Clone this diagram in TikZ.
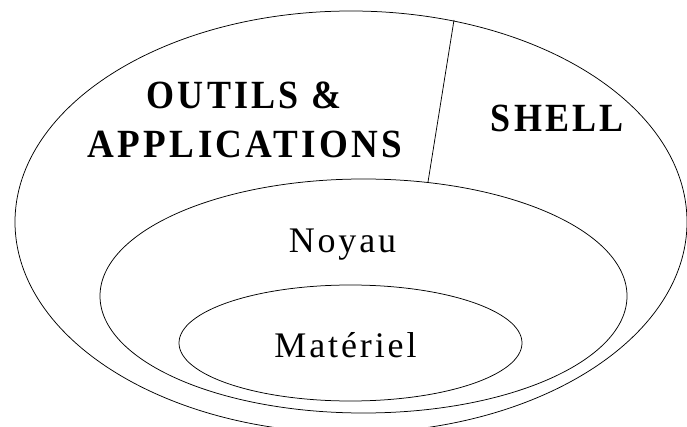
\documentclass[tikz,border=0pt]{standalone}
\usepackage{fontspec}
\setmainfont{Liberation Serif}
\newfontfamily\spacedfont[LetterSpace=8]{Liberation Serif}
\newfontfamily\spacedbold[LetterSpace=9,UprightFont={* Bold}]{Liberation Serif}
\usetikzlibrary{shapes.geometric}
\begin{document}
\begin{tikzpicture}[x=1pt,y=-1pt,
  ring/.style={draw=black,line width=0.75pt,ellipse,inner sep=0pt},
  biglabel/.style={anchor=base,inner sep=0pt,xscale=0.9,font=\spacedbold\fontsize{40}{44}\selectfont},
  smalllabel/.style={anchor=base,inner sep=0pt,font=\spacedfont\fontsize{36}{40}\selectfont},
  divider/.style={draw=black,line width=0.75pt}]
\useasboundingbox (0,0) rectangle (687,427);
\clip (0,0) rectangle (687,427);
\node[ring,minimum width=672pt,minimum height=422pt] (outer) at (351,222) {};
\node[ring,minimum width=527pt,minimum height=234pt] (middle) at (363.5,296) {};
\node[ring,minimum width=343pt,minimum height=116pt] (inner) at (350.5,343) {};
\coordinate (divtop) at (454,20);
\coordinate (divbot) at (428,182);
\draw[divider] (divtop) -- (divbot);
\node[biglabel] (outils) at (244,108.5) {OUTILS \&};
\node[biglabel,xscale=1.03] (apps) at (245,157.5) {APPLICATIONS};
\node[biglabel] (shell) at (557.5,131.5) {SHELL};
\node[smalllabel] (noyau) at (342.5,253) {Noyau};
\node[smalllabel] (materiel) at (345.5,357) {Matériel};
\end{tikzpicture}
\end{document}
